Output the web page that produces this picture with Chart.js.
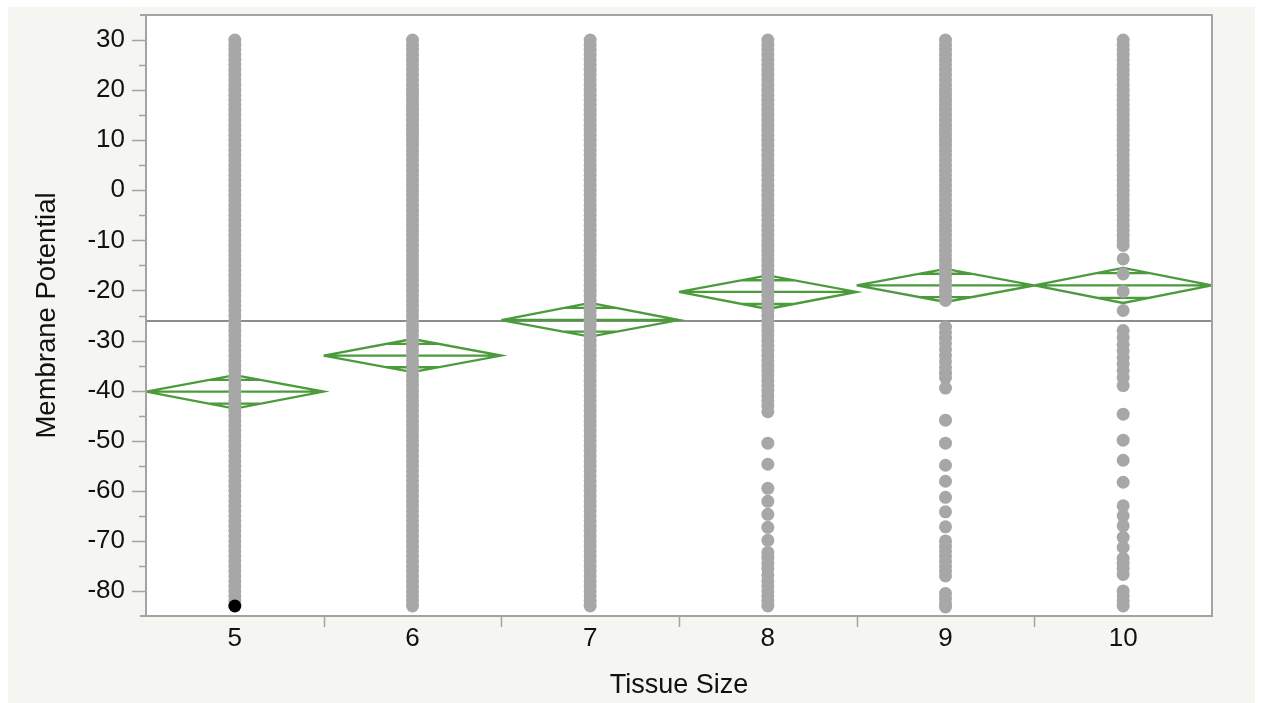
<!DOCTYPE html>
<html><head><meta charset="utf-8">
<script src="https://cdn.jsdelivr.net/npm/chart.js@4.4.1/dist/chart.umd.min.js"></script>
<style>
html,body{margin:0;padding:0;background:#ffffff;overflow:hidden;}
#panel{position:absolute;left:8px;top:7px;width:1247px;height:696px;background:#f5f5f1;}
#wrap{position:absolute;left:0;top:0;width:1262px;height:703px;}
</style></head><body>
<div id="panel"></div>
<div id="wrap"><canvas id="c" width="1262" height="703"></canvas></div>
<script>
// ---------- data ----------
const categories = [5, 6, 7, 8, 9, 10];
const xTickLabels = ['5', '6', '7', '8', '9', '10'];
const yMajorTicks = [30, 20, 10, 0, -10, -20, -30, -40, -50, -60, -70, -80];
const yMinorTicks = [25, 15, 5, -5, -15, -25, -35, -45, -55, -65, -75];
const xTitle = 'Tissue Size';
const yTitle = 'Membrane Potential';

const grandMean = -26.1;
const groupMeans = [-40.2, -33.0, -25.9, -20.3, -19.0, -19.0];
const ciUpper    = [-36.9, -29.7, -22.5, -17.0, -15.7, -15.5];
const ciLower    = [-43.6, -36.3, -29.2, -23.7, -22.3, -22.5];

const tissue5 = [30,29,28,27,26,25,24,23,22,21,20,19,18,17,16,15,14,13,12,11,10,9,8,7,6,5,4,3,2,1,0,-1,-2,-3,-4,-5,-6,-7,-8,-9,-10,-11,-12,-13,-14,-15,-16,-17,-18,-19,-20,-21,-22,-23,-24,-25,-26,-27,-28,-29,-30,-31,-32,-33,-34,-35,-36,-37,-38,-39,-40,-41,-42,-43,-44,-45,-46,-47,-48,-49,-50,-51,-52,-53,-54,-55,-56,-57,-58,-59,-60,-61,-62,-63,-64,-65,-66,-67,-68,-69,-70,-71,-72,-73,-74,-75,-76,-77,-78,-79,-80,-81,-82];
const tissue6 = [30,29,28,27,26,25,24,23,22,21,20,19,18,17,16,15,14,13,12,11,10,9,8,7,6,5,4,3,2,1,0,-1,-2,-3,-4,-5,-6,-7,-8,-9,-10,-11,-12,-13,-14,-15,-16,-17,-18,-19,-20,-21,-22,-23,-24,-25,-26,-27,-28,-29,-30,-31,-32,-33,-34,-35,-36,-37,-38,-39,-40,-41,-42,-43,-44,-45,-46,-47,-48,-49,-50,-51,-52,-53,-54,-55,-56,-57,-58,-59,-60,-61,-62,-63,-64,-65,-66,-67,-68,-69,-70,-71,-72,-73,-74,-75,-76,-77,-78,-79,-80,-81,-82,-83];
const tissue7 = [30,29,28,27,26,25,24,23,22,21,20,19,18,17,16,15,14,13,12,11,10,9,8,7,6,5,4,3,2,1,0,-1,-2,-3,-4,-5,-6,-7,-8,-9,-10,-11,-12,-13,-14,-15,-16,-17,-18,-19,-20,-21,-22,-23,-24,-25,-26,-27,-28,-29,-30,-31,-32,-33,-34,-35,-36,-37,-38,-39,-40,-41,-42,-43,-44,-45,-46,-47,-48,-49,-50,-51,-52,-53,-54,-55,-56,-57,-58,-59,-60,-61,-62,-63,-64,-65,-66,-67,-68,-69,-70,-71,-72,-73,-74,-75,-76,-77,-78,-79,-80,-81,-82,-83];
const tissue8 = [30,29,28,27,26,25,24,23,22,21,20,19,18,17,16,15,14,13,12,11,10,9,8,7,6,5,4,3,2,1,0,-1,-2,-3,-4,-5,-6,-7,-8,-9,-10,-11,-12,-13,-14,-15,-16,-17,-18,-19,-20,-21,-22,-23,-24,-25,-26,-27,-28,-29,-30,-31,-32,-33,-34,-35,-36,-37,-38,-39,-40,-41,-42,-43,-44.2,-50.5,-54.7,-59.5,-62.1,-64.7,-67.3,-69.9,-72.3,-73.3,-74.5,-75.5,-76.8,-78,-79,-80,-81,-82,-83];
const tissue9 = [30,29,28,27,26,25,24,23,22,21,20,19,18,17,16,15,14,13,12,11,10,9,8,7,6,5,4,3,2,1,0,-1,-2,-3,-4,-5,-6,-7,-8,-9,-10,-11,-12,-13,-14,-15,-16,-17,-18,-19,-20,-21,-22,-27.3,-28.4,-29.5,-30.6,-31.8,-33,-34.2,-35.4,-36.5,-37.4,-39.5,-45.9,-50.5,-54.9,-58.1,-61.3,-64.2,-67.2,-70,-71,-72,-73,-74,-75,-76,-77,-80.5,-81.5,-82.5,-83.2];
const tissue10 = [30,29,28,27,26,25,24,23,22,21,20,19,18,17,16,15,14,13,12,11,10,9,8,7,6,5,4,3,2,1,0,-1,-2,-3,-4,-5,-6,-7,-8,-9,-10,-11,-13.7,-16.7,-20.2,-24,-28,-29.4,-30.8,-32.1,-33.4,-34.7,-36,-37.4,-39,-44.7,-49.9,-53.9,-58.3,-63,-65,-67,-69.3,-71.3,-73.5,-74.5,-75.5,-76.7,-80,-81,-82,-83];
const groupValues = [tissue5, tissue6, tissue7, tissue8, tissue9, tissue10];
const selectedGroup = [5];
const selectedValue = [-83];

// ---------- style ----------
const FONT = '"Liberation Sans", Arial, Helvetica, sans-serif';
const GREEN = '#4b9b3c';
const POINT_GRAY = '#a7a7a7';
const AXIS_GRAY = '#a3a3a3';
const MEAN_GRAY = '#8c8c8c';
const PR = 6.5;

// ---------- datasets ----------
const datasets = [];
groupValues.forEach((vals, i) => {
  datasets.push({
    label: 'Tissue ' + categories[i],
    data: vals.map(v => ({x: categories[i], y: v})),
    backgroundColor: POINT_GRAY, borderWidth: 0, pointRadius: PR, pointHoverRadius: PR,
    order: 1
  });
});
datasets.push({
  label: 'Selected',
  data: selectedGroup.map((g, i) => ({x: g, y: selectedValue[i]})),
  backgroundColor: '#000', borderWidth: 0, pointRadius: PR, order: 0
});
// means diamonds (outline, mean line, overlap marks)
const k = 1 / Math.SQRT2;
const diamondPts = [];
categories.forEach((c, i) => {
  const m = groupMeans[i], u = ciUpper[i], l = ciLower[i];
  diamondPts.push({x: c - 0.5, y: m}, {x: c, y: u}, {x: c + 0.5, y: m}, {x: c, y: l}, {x: c - 0.5, y: m}, {x: c + 0.5, y: m}, {x: c, y: null});
  const hw = 0.5 * (1 - k);
  const ou = m + (u - m) * k, ol = m + (l - m) * k;
  diamondPts.push({x: c - hw, y: ou}, {x: c + hw, y: ou}, {x: c, y: null});
  diamondPts.push({x: c - hw, y: ol}, {x: c + hw, y: ol}, {x: c, y: null});
});
datasets.push({
  label: 'Means diamonds', data: diamondPts, showLine: true, spanGaps: false,
  borderColor: GREEN, borderWidth: 2.3, pointRadius: 0, fill: false, tension: 0, order: 2
});
datasets.push({
  label: 'Grand mean',
  data: [{x: categories[0] - 0.5, y: grandMean}, {x: categories[categories.length - 1] + 0.5, y: grandMean}],
  showLine: true, borderColor: MEAN_GRAY, borderWidth: 2, pointRadius: 0, fill: false, order: 3
});

// ---------- plugin: plot background, frame, tick marks ----------
const framePlugin = {
  id: 'frame',
  beforeDraw(chart) {
    const {ctx, chartArea: a} = chart;
    ctx.save();
    ctx.fillStyle = '#ffffff';
    ctx.fillRect(a.left, a.top, a.right - a.left, a.bottom - a.top);
    ctx.restore();
  },
  afterDraw(chart) {
    const {ctx, chartArea: a, scales: {x, y}} = chart;
    ctx.save();
    ctx.strokeStyle = AXIS_GRAY;
    ctx.lineWidth = 2;
    ctx.beginPath();
    ctx.moveTo(a.left - 6, a.top); ctx.lineTo(a.right, a.top);
    ctx.lineTo(a.right, a.bottom); ctx.lineTo(a.left - 6, a.bottom);
    ctx.moveTo(a.left, a.top); ctx.lineTo(a.left, a.bottom);
    ctx.stroke();
    ctx.lineWidth = 1.5;
    ctx.beginPath();
    yMajorTicks.forEach(v => { const p = Math.round(y.getPixelForValue(v)) + 0.5; ctx.moveTo(a.left - 14, p); ctx.lineTo(a.left, p); });
    yMinorTicks.forEach(v => { const p = Math.round(y.getPixelForValue(v)) + 0.5; ctx.moveTo(a.left - 7, p); ctx.lineTo(a.left, p); });
    categories.slice(1).forEach(c => { const p = Math.round(x.getPixelForValue(c - 0.5)) + 0.5; ctx.moveTo(p, a.bottom); ctx.lineTo(p, a.bottom + 11); });
    ctx.stroke();
    ctx.restore();
  }
};

new Chart(document.getElementById('c'), {
  type: 'scatter',
  data: {datasets},
  plugins: [framePlugin],
  options: {
    responsive: false, animation: false, events: [],
    layout: {padding: {left: 0, top: 15, right: 50, bottom: 0}},
    plugins: {legend: {display: false}, tooltip: {enabled: false}},
    scales: {
      x: {
        type: 'linear', position: 'bottom',
        min: categories[0] - 0.5, max: categories[categories.length - 1] + 0.5,
        afterBuildTicks: s => { s.ticks = categories.map(c => ({value: c})); },
        afterFit: s => { s.height = 87; s.paddingLeft = 0; s.paddingRight = 0; },
        grid: {drawOnChartArea: false, tickLength: 10, tickColor: 'rgba(0,0,0,0)'},
        border: {display: false},
        ticks: {
          autoSkip: false, maxRotation: 0, padding: -3, color: '#111',
          font: {family: FONT, size: 26},
          callback: v => xTickLabels[categories.indexOf(v)]
        },
        title: {display: true, text: xTitle, color: '#111', font: {family: FONT, size: 27}, padding: {top: 0, bottom: 1}}
      },
      y: {
        type: 'linear', min: -85, max: 35,
        afterBuildTicks: s => { s.ticks = yMajorTicks.map(v => ({value: v})); },
        afterFit: s => { s.width = 146; s.paddingTop = 0; s.paddingBottom = 0; },
        grid: {drawOnChartArea: false, tickLength: 14, tickColor: 'rgba(0,0,0,0)'},
        border: {display: false},
        ticks: {autoSkip: false, padding: 7, color: '#111', font: {family: FONT, size: 26}},
        title: {display: true, text: yTitle, color: '#111', font: {family: FONT, size: 27.5}, padding: {top: 31, bottom: 0}}
      }
    }
  }
});
</script>
</body></html>
